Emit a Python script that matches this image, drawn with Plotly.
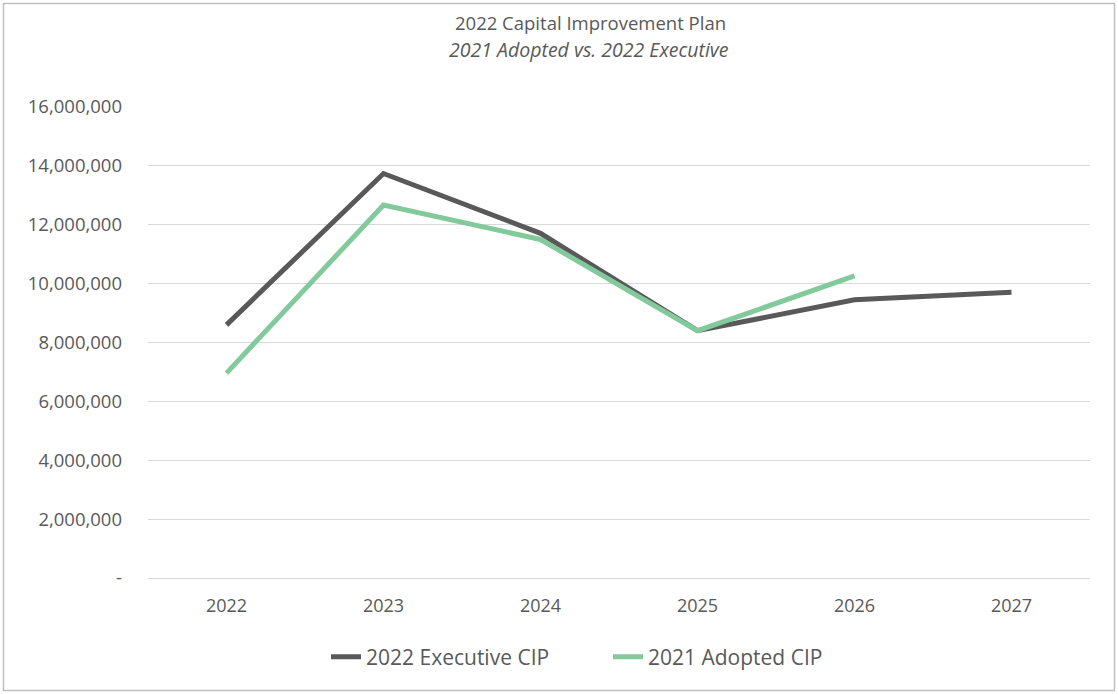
import plotly.graph_objects as go

# 数据
years = ["2022", "2023", "2024", "2025", "2026", "2027"]
executive_cip = [8600000, 13740000, 11710000, 8400000, 9450000, 9710000]
adopted_years = ["2022", "2023", "2024", "2025", "2026"]
adopted_cip = [6960000, 12670000, 11500000, 8400000, 10260000]

y_ticks = [0, 2000000, 4000000, 6000000, 8000000, 10000000, 12000000, 14000000, 16000000]
y_tick_text = ["-"] + [f"{v:,}" for v in y_ticks[1:]]

FONT = "Open Sans"
TEXT = "#595959"
GRID = "#d9d9d9"

fig = go.Figure()

fig.add_trace(go.Scatter(
    x=years, y=executive_cip, mode="lines", name="2022 Executive CIP",
    line=dict(color="#595959", width=5),
))
fig.add_trace(go.Scatter(
    x=adopted_years, y=adopted_cip, mode="lines", name="2021 Adopted CIP",
    line=dict(color="#82c99b", width=5),
))

W, H = 1118, 694
L, R, T, B = 148, 28, 107, 116
pw, ph = W - L - R, H - T - B


def px_x(x):
    return (x - L) / pw


def px_y(y):
    return (H - B - y) / ph


fig.update_layout(
    width=W, height=H,
    margin=dict(l=L, r=R, t=T, b=B),
    paper_bgcolor="white", plot_bgcolor="white",
    font=dict(family=FONT, color=TEXT, size=18),
    showlegend=True,
    legend=dict(orientation="h", x=px_x(326), xanchor="left", y=px_y(657), yanchor="middle",
                font=dict(size=21, color=TEXT), entrywidth=237, entrywidthmode="pixels",
                tracegroupgap=0),
    xaxis=dict(type="category", range=[-0.5, 5.5], showgrid=False, showline=False,
               zeroline=False, ticks="", ticklen=0, tickfont=dict(size=18),
               ticklabelstandoff=15),
    yaxis=dict(range=[0, 16000000], tickvals=y_ticks, ticktext=y_tick_text,
               showgrid=True, gridcolor=GRID, gridwidth=1, zeroline=True,
               zerolinecolor=GRID, zerolinewidth=1, showline=False, ticks="", ticklen=0,
               tickfont=dict(size=18.5), ticklabelstandoff=25),
    annotations=[
        dict(text="2022 Capital Improvement Plan", xref="paper", yref="paper",
             x=px_x(590), y=px_y(22), xanchor="center", yanchor="middle",
             showarrow=False, font=dict(size=18.5, color=TEXT)),
        dict(text="<i>2021 Adopted vs. 2022 Executive</i>", xref="paper", yref="paper",
             x=px_x(589), y=px_y(49), xanchor="center", yanchor="middle",
             showarrow=False, font=dict(size=19.5, color=TEXT)),
    ],
    shapes=[
        dict(type="rect", xref="paper", yref="paper",
             x0=px_x(3.5), x1=px_x(W - 3.5), y0=px_y(H - 3.5), y1=px_y(3.5),
             line=dict(color="#bfbfbf", width=1.5), layer="below"),
    ],
)

fig.write_html("out.html", config={"displayModeBar": False},
               post_script="document.body.style.margin='0px';")
